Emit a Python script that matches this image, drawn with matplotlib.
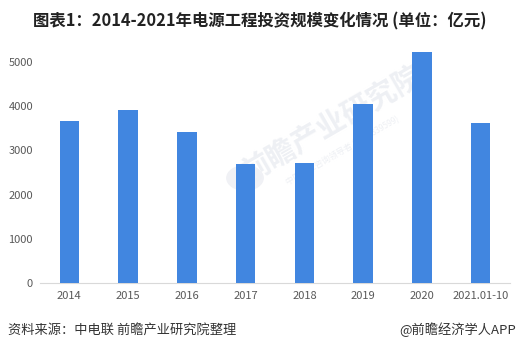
import matplotlib.pyplot as plt
import matplotlib.patches as mpatches
import numpy as np

plt.rcParams['font.family'] = ['Noto Sans CJK SC', 'DejaVu Sans']

years = ['2014', '2015', '2016', '2017', '2018', '2019', '2020', '2021.01-10']
invest = [3665, 3915, 3416, 2692, 2715, 4050, 5226, 3625]

fig = plt.figure(figsize=(5.19, 3.51), dpi=100)
ax = fig.add_axes([40/519, 68/351, 470/519, 243/351])

x = np.arange(len(years))
ax.bar(x, invest, width=0.33, color='#4186E0', zorder=3)

ax.set_xlim(-0.5, len(years) - 0.5)
ax.set_ylim(0, 5500)
ax.set_yticks(range(0, 5001, 1000))
ax.set_xticks(x)
ax.set_xticklabels(years)
ax.tick_params(axis='both', length=0, labelsize=8, colors='#595959', pad=6)
ax.tick_params(axis='y', pad=5)
for s in ['top', 'right', 'left']:
    ax.spines[s].set_visible(False)
ax.spines['bottom'].set_color('#D9D9D9')

# watermark
fig.patches.append(mpatches.Circle((245/519, 1 - 178/351), 0.035, transform=fig.transFigure,
                                   color='#F0F1F5', zorder=0))
fig.text(0.64, 0.65, '前瞻产业研究院', fontsize=21, fontweight='bold', color='#EEF0F4',
         rotation=30, ha='center', va='center', zorder=0)
fig.text(0.66, 0.57, '中国产业咨询领导者 (股票 839599)', fontsize=6, color='#EEF0F4',
         rotation=30, ha='center', va='center', zorder=0)
ax.set_zorder(1)
ax.patch.set_alpha(0)

fig.text(0.5, 0.94, '图表1：2014-2021年电源工程投资规模变化情况 (单位：亿元)',
         fontsize=11.8, fontweight='bold', color='#222222', ha='center', va='center')
fig.text(0.015, 0.06, '资料来源：中电联 前瞻产业研究院整理', fontsize=9.5,
         color='#333333', ha='left', va='center')
fig.text(0.995, 0.06, '@前瞻经济学人APP', fontsize=9.5, color='#333333',
         ha='right', va='center')

fig.savefig('out.png', dpi=100)
